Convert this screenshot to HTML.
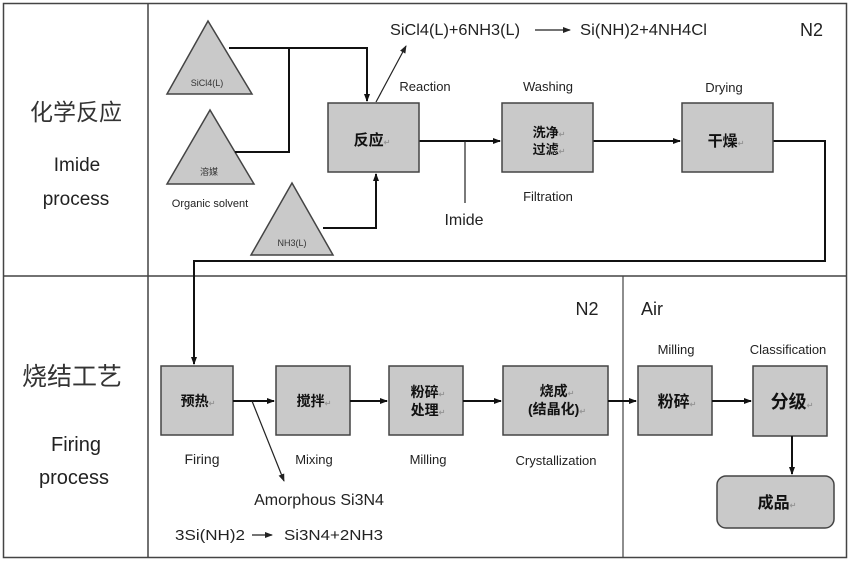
<!DOCTYPE html>
<html>
<head>
<meta charset="utf-8">
<style>
html,body{margin:0;padding:0;background:#fff;}
svg{display:block;}
.lat{font-family:"Liberation Sans","Noto Sans CJK SC",sans-serif;}
.cjk{font-family:"Liberation Sans","Noto Sans CJK SC",sans-serif;}
.rt{fill:#999;font-size:8px;}
</style>
</head>
<body>
<svg width="850" height="562" viewBox="0 0 850 562" xmlns="http://www.w3.org/2000/svg">
<defs>
<marker id="ah" markerWidth="8" markerHeight="8" refX="7" refY="4" orient="auto" markerUnits="userSpaceOnUse">
<path d="M0,1 L8,4 L0,7 Z" fill="#111"/>
</marker>
<marker id="ahs" markerWidth="8" markerHeight="8" refX="7" refY="4" orient="auto" markerUnits="userSpaceOnUse">
<path d="M0,1 L8,4 L0,7 Z" fill="#222"/>
</marker>
</defs>
<rect x="0" y="0" width="850" height="562" fill="#fff"/>
<!-- frame -->
<rect x="3.5" y="3.5" width="843" height="554" fill="none" stroke="#444" stroke-width="1.5"/>
<line x1="148" y1="3" x2="148" y2="558" stroke="#444" stroke-width="1.5"/>
<line x1="3" y1="276" x2="847" y2="276" stroke="#444" stroke-width="1.5"/>
<line x1="623" y1="276" x2="623" y2="558" stroke="#444" stroke-width="1.2"/>

<!-- left labels -->
<g class="cjk" fill="#333" font-size="23" text-anchor="middle">
<text x="76" y="120">化学反应</text>
<text x="72" y="385" font-size="25">烧结工艺</text>
</g>
<g class="lat" fill="#222" font-size="19" text-anchor="middle">
<text x="77" y="171">Imide</text>
<text x="76" y="205">process</text>
<text x="76" y="451" font-size="20">Firing</text>
<text x="74" y="484" font-size="20">process</text>
</g>

<!-- triangles -->
<g fill="#c9c9c9" stroke="#444" stroke-width="1.5">
<polygon points="208,21 167,94 252,94"/>
<polygon points="210,110 167,184 254,184"/>
<polygon points="292,183 251,255 333,255"/>
</g>
<g class="lat" fill="#333" font-size="9" text-anchor="middle">
<text x="207" y="86">SiCl4(L)</text>
<text x="209" y="175" class="cjk">溶媒</text>
<text x="292" y="246">NH3(L)</text>
</g>
<text x="210" y="207" class="lat" font-size="11" fill="#222" text-anchor="middle">Organic solvent</text>

<!-- connectors top -->
<g fill="none" stroke="#111" stroke-width="2">
<polyline points="229,48 367,48 367,101" marker-end="url(#ah)"/>
<polyline points="235,152 289,152 289,48"/>
<polyline points="323,228 376,228 376,174" marker-end="url(#ah)"/>
<line x1="419" y1="141" x2="500" y2="141" marker-end="url(#ah)"/>
<line x1="593" y1="141" x2="680" y2="141" marker-end="url(#ah)"/>
<polyline points="773,141 825,141 825,261 194,261 194,364" marker-end="url(#ah)"/>
</g>
<line x1="465" y1="141" x2="465" y2="203" stroke="#222" stroke-width="1.2"/>
<line x1="376" y1="102" x2="406" y2="46" stroke="#222" stroke-width="1.2" marker-end="url(#ahs)"/>

<!-- top boxes -->
<g fill="#c9c9c9" stroke="#444" stroke-width="1.5">
<rect x="328" y="103" width="91" height="69"/>
<rect x="502" y="103" width="91" height="69"/>
<rect x="682" y="103" width="91" height="69"/>
</g>
<g class="cjk" fill="#111" font-weight="bold" text-anchor="middle">
<text x="372" y="145" font-size="15">反应<tspan class="rt">↵</tspan></text>
<text x="549" y="137" font-size="13">洗净<tspan class="rt">↵</tspan></text>
<text x="549" y="154" font-size="13">过滤<tspan class="rt">↵</tspan></text>
<text x="726" y="146" font-size="15">干燥<tspan class="rt">↵</tspan></text>
</g>

<!-- top texts -->
<g class="lat" fill="#222">
<text x="390" y="35" font-size="15.5" textLength="130" lengthAdjust="spacingAndGlyphs">SiCl4(L)+6NH3(L)</text>
<text x="580" y="35" font-size="15.5" textLength="127" lengthAdjust="spacingAndGlyphs">Si(NH)2+4NH4Cl</text>
<text x="800" y="36" font-size="18">N2</text>
<text x="425" y="91" font-size="13" text-anchor="middle">Reaction</text>
<text x="548" y="91" font-size="13" text-anchor="middle">Washing</text>
<text x="724" y="92" font-size="13" text-anchor="middle">Drying</text>
<text x="548" y="201" font-size="13" text-anchor="middle">Filtration</text>
<text x="464" y="225" font-size="16" text-anchor="middle">Imide</text>
</g>
<line x1="535" y1="30" x2="570" y2="30" stroke="#222" stroke-width="1.2" marker-end="url(#ahs)"/>

<!-- bottom boxes -->
<g fill="#c9c9c9" stroke="#444" stroke-width="1.5">
<rect x="161" y="366" width="72" height="69"/>
<rect x="276" y="366" width="74" height="69"/>
<rect x="389" y="366" width="74" height="69"/>
<rect x="503" y="366" width="105" height="69"/>
<rect x="638" y="366" width="74" height="69"/>
<rect x="753" y="366" width="74" height="70"/>
<rect x="717" y="476" width="117" height="52" rx="9" ry="9"/>
</g>
<g class="cjk" fill="#111" font-weight="bold" text-anchor="middle">
<text x="198" y="406" font-size="14">预热<tspan class="rt">↵</tspan></text>
<text x="314" y="406" font-size="14">搅拌<tspan class="rt">↵</tspan></text>
<text x="428" y="397" font-size="14">粉碎<tspan class="rt">↵</tspan></text>
<text x="428" y="415" font-size="14">处理<tspan class="rt">↵</tspan></text>
<text x="557" y="396" font-size="14">烧成<tspan class="rt">↵</tspan></text>
<text x="557" y="414" font-size="14">(结晶化)<tspan class="rt">↵</tspan></text>
<text x="677" y="407" font-size="16">粉碎<tspan class="rt">↵</tspan></text>
<text x="792" y="408" font-size="18">分级<tspan class="rt">↵</tspan></text>
<text x="777" y="508" font-size="16">成品<tspan class="rt">↵</tspan></text>
</g>

<!-- bottom connectors -->
<g fill="none" stroke="#111" stroke-width="2">
<line x1="233" y1="401" x2="274" y2="401" marker-end="url(#ah)"/>
<line x1="350" y1="401" x2="387" y2="401" marker-end="url(#ah)"/>
<line x1="463" y1="401" x2="501" y2="401" marker-end="url(#ah)"/>
<line x1="608" y1="401" x2="636" y2="401" marker-end="url(#ah)"/>
<line x1="712" y1="401" x2="751" y2="401" marker-end="url(#ah)"/>
<line x1="792" y1="436" x2="792" y2="474" marker-end="url(#ah)"/>
</g>
<line x1="252" y1="401" x2="284" y2="481" stroke="#222" stroke-width="1.2" marker-end="url(#ahs)"/>
<line x1="252" y1="535" x2="272" y2="535" stroke="#222" stroke-width="1.2" marker-end="url(#ahs)"/>

<!-- bottom texts -->
<g class="lat" fill="#222" text-anchor="middle">
<text x="202" y="464" font-size="14">Firing</text>
<text x="314" y="464" font-size="13">Mixing</text>
<text x="428" y="464" font-size="13">Milling</text>
<text x="556" y="465" font-size="13">Crystallization</text>
<text x="676" y="354" font-size="13">Milling</text>
<text x="788" y="354" font-size="13">Classification</text>
<text x="587" y="315" font-size="18">N2</text>
<text x="652" y="315" font-size="18">Air</text>
<text x="319" y="505" font-size="16">Amorphous Si3N4</text>
</g>
<g class="lat" fill="#222" font-size="15">
<text x="175" y="540" textLength="70" lengthAdjust="spacingAndGlyphs">3Si(NH)2</text>
<text x="284" y="540" textLength="99" lengthAdjust="spacingAndGlyphs">Si3N4+2NH3</text>
</g>
</svg>
</body>
</html>
